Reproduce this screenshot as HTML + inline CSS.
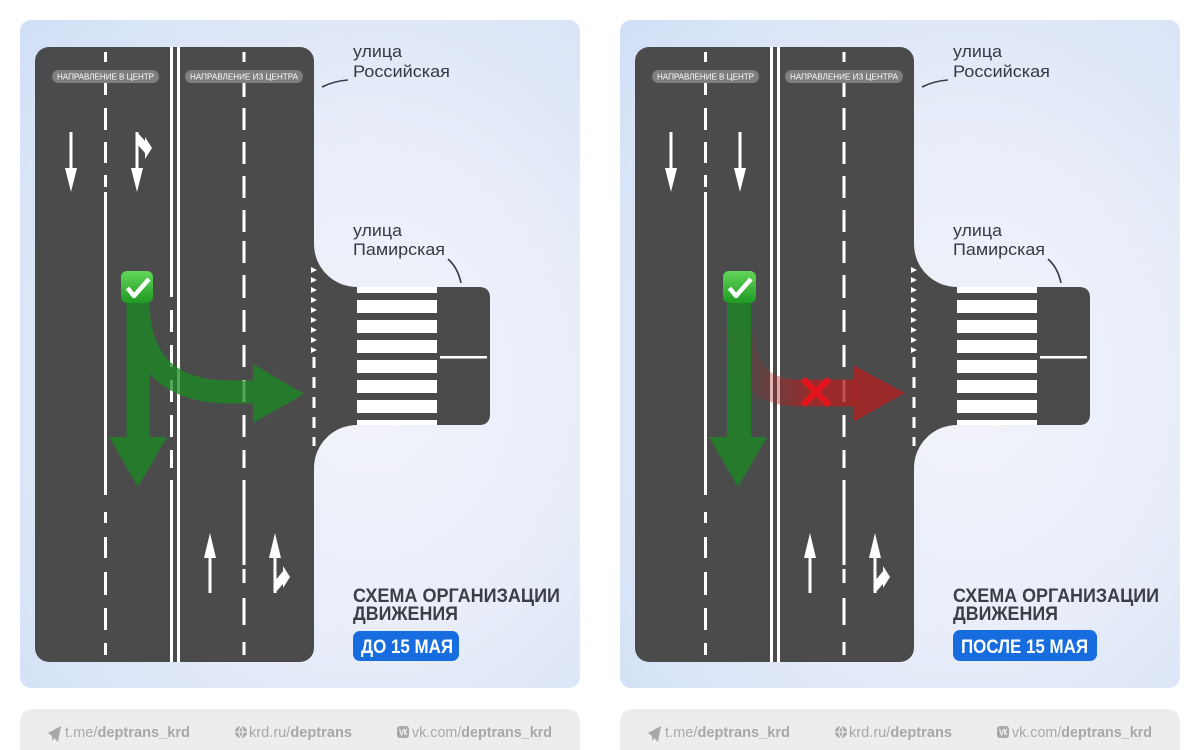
<!DOCTYPE html>
<html><head><meta charset="utf-8"><style>
html,body{margin:0;padding:0;background:#fff;}
svg{display:block;}
text{font-family:"Liberation Sans","DejaVu Sans",sans-serif;}
</style></head><body>
<svg width="1200" height="750" viewBox="0 0 1200 750" xmlns="http://www.w3.org/2000/svg">
<defs>
<radialGradient id="cg" cx="0.62" cy="0.55" r="0.8">
<stop offset="0" stop-color="#f3f3fb"/>
<stop offset="0.45" stop-color="#e9eef9"/>
<stop offset="1" stop-color="#d2e0f6"/>
</radialGradient>
<linearGradient id="chk" x1="0" y1="0" x2="0" y2="1">
<stop offset="0" stop-color="#62d65a"/>
<stop offset="1" stop-color="#1f9a23"/>
</linearGradient>
<linearGradient id="redg" gradientUnits="userSpaceOnUse" x1="748" y1="0" x2="815" y2="0">
<stop offset="0" stop-color="#b02020" stop-opacity="0.08"/>
<stop offset="1" stop-color="#b02020" stop-opacity="0.78"/>
</linearGradient>
</defs>

<!-- cards -->
<rect x="20" y="20" width="560" height="668" rx="11" fill="url(#cg)"/>
<rect x="620" y="20" width="560" height="668" rx="11" fill="url(#cg)"/>

<!-- footers -->
<rect x="20" y="709" width="560" height="70" rx="12" fill="#ededed"/>
<rect x="620" y="709" width="560" height="70" rx="12" fill="#ededed"/>

<!-- ================= LEFT PANEL ================= -->
<g fill="#4b4b4b">
<rect x="35" y="47" width="279" height="615" rx="14"/>
<path d="M308,244 L314,244 A43,43 0 0 0 357,287 L479,287 Q490,287 490,298 L490,414 Q490,425 479,425 L357,425 A43,43 0 0 0 314,468 L308,468 Z"/>
</g>
<!-- crosswalk -->
<g fill="#fff">
<rect x="357" y="287" width="80" height="6"/>
<rect x="357" y="300" width="80" height="13"/>
<rect x="357" y="320" width="80" height="13"/>
<rect x="357" y="340" width="80" height="13"/>
<rect x="357" y="360" width="80" height="13"/>
<rect x="357" y="380" width="80" height="13"/>
<rect x="357" y="400" width="80" height="13"/>
<rect x="357" y="420" width="80" height="5"/>
<rect x="440" y="356" width="47" height="2.5"/>
</g>
<!-- lane lines -->
<g fill="#fff">
<!-- A -->
<rect x="104" y="52" width="3" height="10"/><rect x="104" y="73" width="3" height="22"/><rect x="104" y="108" width="3" height="22"/><rect x="104" y="142" width="3" height="21"/><rect x="104" y="175" width="3" height="12"/><rect x="104" y="192" width="3" height="303"/><rect x="104" y="512" width="3" height="11"/><rect x="104" y="537" width="3" height="21"/><rect x="104" y="572" width="3" height="23"/><rect x="104" y="608" width="3" height="22"/><rect x="104" y="643" width="3" height="12"/>
<!-- B1 -->
<rect x="170" y="47" width="3" height="250"/><rect x="170" y="310" width="3" height="22"/><rect x="170" y="345" width="3" height="22"/><rect x="170" y="380" width="3" height="22"/><rect x="170" y="415" width="3" height="22"/><rect x="170" y="450" width="3" height="18"/><rect x="170" y="480" width="3" height="182"/>
<!-- B2 -->
<rect x="177" y="47" width="3" height="615"/>
<!-- C -->
<rect x="242.5" y="52" width="3" height="10"/><rect x="242.5" y="75" width="3" height="22"/><rect x="242.5" y="108" width="3" height="22"/><rect x="242.5" y="142" width="3" height="22"/><rect x="242.5" y="176" width="3" height="22"/><rect x="242.5" y="210" width="3" height="22"/><rect x="242.5" y="241" width="3" height="22"/><rect x="242.5" y="275" width="3" height="23"/><rect x="242.5" y="310" width="3" height="22"/><rect x="242.5" y="345" width="3" height="22"/><rect x="242.5" y="380" width="3" height="22"/><rect x="242.5" y="415" width="3" height="22"/><rect x="242.5" y="450" width="3" height="18"/><rect x="242.5" y="480" width="3" height="85"/><rect x="242.5" y="569" width="3" height="14"/><rect x="242.5" y="598" width="3" height="27"/><rect x="242.5" y="642" width="3" height="13"/>
<!-- side dashes -->
<rect x="312.5" y="357" width="3" height="11"/><rect x="312.5" y="377" width="3" height="11"/><rect x="312.5" y="397" width="3" height="11"/><rect x="312.5" y="417" width="3" height="11"/><rect x="312.5" y="437" width="3" height="9"/>
<!-- teeth -->
<polygon points="311,267 317,270 311,273"/><polygon points="311,277 317,280 311,283"/><polygon points="311,287 317,290 311,293"/><polygon points="311,297 317,300 311,303"/><polygon points="311,307 317,310 311,313"/><polygon points="311,317 317,320 311,323"/><polygon points="311,327 317,330 311,333"/><polygon points="311,337 317,340 311,343"/><polygon points="311,347 317,350 311,353"/>
<!-- down arrows -->
<rect x="69.5" y="132" width="3" height="38"/><polygon points="65,168 77,168 71,192"/>
<rect x="135.5" y="132" width="3" height="38"/><polygon points="131,168 143,168 137,192"/>
<polygon points="137,132 145,141 145,137 152,148 145,159 145,153 137,144"/>
<!-- up arrows -->
<rect x="208.5" y="555" width="3" height="38"/><polygon points="204,558 216,558 210,533"/>
<rect x="273.5" y="555" width="3" height="38"/><polygon points="269,558 281,558 275,533"/>
<polygon points="275,593 283,584 283,588 290,577 283,566 283,571 275,581"/>
</g>
<!-- pills -->
<rect x="52" y="70" width="107" height="13" rx="6.5" fill="#7e7e7e"/>
<text x="105.5" y="79.6" font-size="8" fill="#fff" text-anchor="middle" textLength="97" lengthAdjust="spacingAndGlyphs">НАПРАВЛЕНИЕ В ЦЕНТР</text>
<rect x="185" y="70" width="118" height="13" rx="6.5" fill="#7e7e7e"/>
<text x="244" y="79.6" font-size="8" fill="#fff" text-anchor="middle" textLength="108" lengthAdjust="spacingAndGlyphs">НАПРАВЛЕНИЕ ИЗ ЦЕНТРА</text>
<!-- green arrow -->
<g opacity="0.75" fill="#1a8a22">
<rect x="126.5" y="296" width="23" height="143"/>
<polygon points="109,437 167,437 138,487"/>
<path d="M138,300 Q138,392 230,392 L256,392" fill="none" stroke="#1a8a22" stroke-width="23"/>
<polygon points="253,364 304,394 253,423"/>
</g>
<rect x="121" y="271" width="32" height="32" rx="6" fill="url(#chk)"/>
<path d="M127.5,288 L134,296 L149,279" fill="none" stroke="#fff" stroke-width="4.5" stroke-linejoin="round"/>
<!-- labels -->
<text x="353" y="57" font-size="17" fill="#353a42" textLength="49" lengthAdjust="spacingAndGlyphs">улица</text>
<text x="353" y="77" font-size="17" fill="#353a42" textLength="97" lengthAdjust="spacingAndGlyphs">Российская</text>
<path d="M322,87 Q334,81 348,80" fill="none" stroke="#353a42" stroke-width="1.6"/>
<text x="353" y="236" font-size="17" fill="#353a42" textLength="49" lengthAdjust="spacingAndGlyphs">улица</text>
<text x="353" y="255" font-size="17" fill="#353a42" textLength="92" lengthAdjust="spacingAndGlyphs">Памирская</text>
<path d="M448,259 Q458,268 461,283" fill="none" stroke="#353a42" stroke-width="1.6"/>
<text x="353" y="602" font-size="19" font-weight="bold" fill="#3a3f47" textLength="207" lengthAdjust="spacingAndGlyphs">СХЕМА ОРГАНИЗАЦИИ</text>
<text x="353" y="620" font-size="19" font-weight="bold" fill="#3a3f47" textLength="105" lengthAdjust="spacingAndGlyphs">ДВИЖЕНИЯ</text>
<rect x="353" y="631" width="106" height="30" rx="7" fill="#176de0"/>
<text x="361" y="653" font-size="19" font-weight="bold" fill="#fff" textLength="92" lengthAdjust="spacingAndGlyphs">ДО 15 МАЯ</text>

<!-- ================= RIGHT PANEL ================= -->
<g fill="#4b4b4b">
<rect x="635" y="47" width="279" height="615" rx="14"/>
<path d="M908,244 L914,244 A43,43 0 0 0 957,287 L1079,287 Q1090,287 1090,298 L1090,414 Q1090,425 1079,425 L957,425 A43,43 0 0 0 914,468 L908,468 Z"/>
</g>
<g fill="#fff">
<rect x="957" y="287" width="80" height="6"/>
<rect x="957" y="300" width="80" height="13"/>
<rect x="957" y="320" width="80" height="13"/>
<rect x="957" y="340" width="80" height="13"/>
<rect x="957" y="360" width="80" height="13"/>
<rect x="957" y="380" width="80" height="13"/>
<rect x="957" y="400" width="80" height="13"/>
<rect x="957" y="420" width="80" height="5"/>
<rect x="1040" y="356" width="47" height="2.5"/>
</g>
<g fill="#fff">
<!-- A -->
<rect x="704" y="52" width="3" height="10"/><rect x="704" y="73" width="3" height="22"/><rect x="704" y="108" width="3" height="22"/><rect x="704" y="142" width="3" height="21"/><rect x="704" y="175" width="3" height="12"/><rect x="704" y="192" width="3" height="303"/><rect x="704" y="512" width="3" height="11"/><rect x="704" y="537" width="3" height="21"/><rect x="704" y="572" width="3" height="23"/><rect x="704" y="608" width="3" height="22"/><rect x="704" y="643" width="3" height="12"/>
<!-- B -->
<rect x="770" y="47" width="3" height="615"/>
<rect x="777" y="47" width="3" height="615"/>
<!-- C -->
<rect x="842.5" y="52" width="3" height="10"/><rect x="842.5" y="75" width="3" height="22"/><rect x="842.5" y="108" width="3" height="22"/><rect x="842.5" y="142" width="3" height="22"/><rect x="842.5" y="176" width="3" height="22"/><rect x="842.5" y="210" width="3" height="22"/><rect x="842.5" y="241" width="3" height="22"/><rect x="842.5" y="275" width="3" height="23"/><rect x="842.5" y="310" width="3" height="22"/><rect x="842.5" y="345" width="3" height="22"/><rect x="842.5" y="380" width="3" height="22"/><rect x="842.5" y="415" width="3" height="22"/><rect x="842.5" y="450" width="3" height="18"/><rect x="842.5" y="480" width="3" height="85"/><rect x="842.5" y="569" width="3" height="14"/><rect x="842.5" y="598" width="3" height="27"/><rect x="842.5" y="642" width="3" height="13"/>
<!-- side dashes -->
<rect x="912.5" y="357" width="3" height="11"/><rect x="912.5" y="377" width="3" height="11"/><rect x="912.5" y="397" width="3" height="11"/><rect x="912.5" y="417" width="3" height="11"/><rect x="912.5" y="437" width="3" height="9"/>
<polygon points="911,267 917,270 911,273"/><polygon points="911,277 917,280 911,283"/><polygon points="911,287 917,290 911,293"/><polygon points="911,297 917,300 911,303"/><polygon points="911,307 917,310 911,313"/><polygon points="911,317 917,320 911,323"/><polygon points="911,327 917,330 911,333"/><polygon points="911,337 917,340 911,343"/><polygon points="911,347 917,350 911,353"/>
<!-- down arrows -->
<rect x="669.5" y="132" width="3" height="38"/><polygon points="665,168 677,168 671,192"/>
<rect x="738.5" y="132" width="3" height="38"/><polygon points="734,168 746,168 740,192"/>
<!-- up arrows -->
<rect x="808.5" y="555" width="3" height="38"/><polygon points="804,558 816,558 810,533"/>
<rect x="873.5" y="555" width="3" height="38"/><polygon points="869,558 881,558 875,533"/>
<polygon points="875,593 883,584 883,588 890,577 883,566 883,571 875,581"/>
</g>
<rect x="652" y="70" width="107" height="13" rx="6.5" fill="#7e7e7e"/>
<text x="705.5" y="79.6" font-size="8" fill="#fff" text-anchor="middle" textLength="97" lengthAdjust="spacingAndGlyphs">НАПРАВЛЕНИЕ В ЦЕНТР</text>
<rect x="785" y="70" width="118" height="13" rx="6.5" fill="#7e7e7e"/>
<text x="844" y="79.6" font-size="8" fill="#fff" text-anchor="middle" textLength="108" lengthAdjust="spacingAndGlyphs">НАПРАВЛЕНИЕ ИЗ ЦЕНТРА</text>
<!-- red arrow -->
<path d="M740,330 Q742,393 800,393 L855,393" fill="none" stroke="url(#redg)" stroke-width="27"/>
<polygon points="853,365 905,393 853,422" fill="#b02020" fill-opacity="0.78"/>
<!-- green arrow -->
<g opacity="0.75" fill="#1a8a22">
<rect x="727" y="296" width="24" height="143"/>
<polygon points="709,437 767,437 738,487"/>
</g>
<rect x="723" y="271" width="33" height="32" rx="6" fill="url(#chk)"/>
<path d="M729.5,288 L736,296 L751,279" fill="none" stroke="#fff" stroke-width="4.5" stroke-linejoin="round"/>
<!-- red X -->
<path d="M803,379 L829,405 M829,379 L803,405" stroke="#e3131b" stroke-width="6"/>
<!-- labels -->
<text x="953" y="57" font-size="17" fill="#353a42" textLength="49" lengthAdjust="spacingAndGlyphs">улица</text>
<text x="953" y="77" font-size="17" fill="#353a42" textLength="97" lengthAdjust="spacingAndGlyphs">Российская</text>
<path d="M922,87 Q934,81 948,80" fill="none" stroke="#353a42" stroke-width="1.6"/>
<text x="953" y="236" font-size="17" fill="#353a42" textLength="49" lengthAdjust="spacingAndGlyphs">улица</text>
<text x="953" y="255" font-size="17" fill="#353a42" textLength="92" lengthAdjust="spacingAndGlyphs">Памирская</text>
<path d="M1048,259 Q1058,268 1061,283" fill="none" stroke="#353a42" stroke-width="1.6"/>
<text x="953" y="602" font-size="19" font-weight="bold" fill="#3a3f47" textLength="206" lengthAdjust="spacingAndGlyphs">СХЕМА ОРГАНИЗАЦИИ</text>
<text x="953" y="620" font-size="19" font-weight="bold" fill="#3a3f47" textLength="105" lengthAdjust="spacingAndGlyphs">ДВИЖЕНИЯ</text>
<rect x="953" y="630" width="144" height="31" rx="7" fill="#176de0"/>
<text x="961" y="653" font-size="19" font-weight="bold" fill="#fff" textLength="127" lengthAdjust="spacingAndGlyphs">ПОСЛЕ 15 МАЯ</text>

<!-- ================= FOOTERS ================= -->
<g fill="#a8a8a8">
<polygon points="48,733 61,726 58,742 54,738 52,741 52,736"/>
<circle cx="241" cy="732" r="6"/>
<rect x="397" y="726" width="12" height="12" rx="3"/>
<polygon points="648,733 661,726 658,742 654,738 652,741 652,736"/>
<circle cx="841" cy="732" r="6"/>
<rect x="997" y="726" width="12" height="12" rx="3"/>
</g>
<g fill="none" stroke="#ededed" stroke-width="1.2">
<path d="M235,732 H247 M241,726 Q237,732 241,738 M241,726 Q245,732 241,738"/>
<path d="M835,732 H847 M841,726 Q837,732 841,738 M841,726 Q845,732 841,738"/>
<path d="M399.5,729 L401.5,735 L403.5,729 M404.5,729 V735 M407,729 L405,732 L407,735"/>
<path d="M999.5,729 L1001.5,735 L1003.5,729 M1004.5,729 V735 M1007,729 L1005,732 L1007,735"/>
</g>
<g font-size="14.5" fill="#a8a8a8">
<text x="65" y="737" textLength="125" lengthAdjust="spacingAndGlyphs">t.me/<tspan font-weight="bold">deptrans_krd</tspan></text>
<text x="249" y="737" textLength="103" lengthAdjust="spacingAndGlyphs">krd.ru/<tspan font-weight="bold">deptrans</tspan></text>
<text x="412" y="737" textLength="140" lengthAdjust="spacingAndGlyphs">vk.com/<tspan font-weight="bold">deptrans_krd</tspan></text>
<text x="665" y="737" textLength="125" lengthAdjust="spacingAndGlyphs">t.me/<tspan font-weight="bold">deptrans_krd</tspan></text>
<text x="849" y="737" textLength="103" lengthAdjust="spacingAndGlyphs">krd.ru/<tspan font-weight="bold">deptrans</tspan></text>
<text x="1012" y="737" textLength="140" lengthAdjust="spacingAndGlyphs">vk.com/<tspan font-weight="bold">deptrans_krd</tspan></text>
</g>
</svg>
</body></html>
